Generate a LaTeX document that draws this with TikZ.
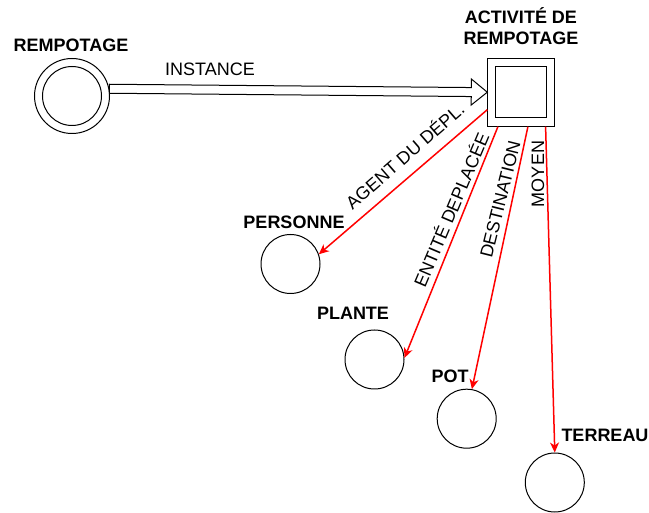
\documentclass[tikz,border=0pt]{standalone}
\usepackage{fontspec}
\setmainfont{Liberation Sans}
\usetikzlibrary{arrows.meta,calc}
\begin{document}
\begin{tikzpicture}[x=1pt,y=-1pt,
  every node/.style={font=\fontsize{18}{21}\selectfont},
  ent/.style={circle,draw,line width=1pt,minimum size=59pt,inner sep=0pt},
  lbl/.style={inner sep=0pt,text height=13pt,text depth=0pt,font=\fontsize{18}{21}\selectfont\bfseries},
  rlbl/.style={inner sep=0pt,text height=13pt,text depth=0pt},
  rel/.style={draw=red,line width=1.5pt,-{Stealth[length=10pt,width=9pt,inset=3pt]}},
  box/.style={draw,line width=1pt,inner sep=0pt,fill=white}
]
\useasboundingbox (0,0) rectangle (649,513);

% entities
\node[ent,minimum size=75pt] (rp) at (72,96) {};
\node[ent] (rpin) at (rp.center) {};
\node[ent] (pers) at (290.5,264) {};
\node[ent] (plante) at (374.5,359.5) {};
\node[ent] (pot) at (466.7,418.7) {};
\node[ent] (ter) at (554.8,482.5) {};

% activity box
\node[box,minimum width=67pt,minimum height=68pt] (act) at (521.3,92.2) {};
\node[box,minimum width=51pt,minimum height=50.6pt] (actin) at (act.center) {};

% titles
\node[lbl] (trp) at (71,45) {REMPOTAGE};
\node[inner sep=0pt,align=center,font=\fontsize{18}{21}\selectfont\bfseries] (tact) at (521,26.5) {ACTIVITÉ DE\\REMPOTAGE};
\node[lbl] (tpers) at (294,221.7) {PERSONNE};
\node[lbl] (tplante) at (353,313.5) {PLANTE};
\node[lbl] (tpot) at (450,376) {POT};
\node[lbl] (tter) at (605,435) {TERREAU};

% hollow instance arrow
\coordinate (ia) at (rp.11.5);
\coordinate (ib) at (act.west);
\coordinate (hb) at ($(ib)!16pt!(ia)$);
\draw[line width=1pt,fill=white,line join=miter]
  ($(ia)!4.5pt!90:(ib)$) -- ($(hb)!4.5pt!-90:(ia)$) -- ($(hb)!13pt!-90:(ia)$)
  -- (ib) -- ($(hb)!13pt!90:(ia)$) -- ($(hb)!4.5pt!90:(ia)$)
  -- ($(ia)!4.5pt!-90:(ib)$) -- cycle;
\node[rlbl] (linst) at (210,69.5) {INSTANCE};

% relations
\draw[rel] ($(act.south west)+(0,-17)$) -- (pers.19);
\draw[rel] ($(act.south west)+(10.6,0)$) -- (plante.3);
\draw[rel] ($(act.south west)+(40.6,0)$) -- (pot.80);
\draw[rel] ($(act.south west)+(58.3,0)$) -- (ter.north);

\node[rlbl,rotate=41] (lagent) at (405,156) {AGENT DU DÉPL.};
\node[rlbl,rotate=67] (lent) at (451.5,210) {ENTITÉ DEPLACÉE};
\node[rlbl,rotate=76] (ldest) at (500,199) {DESTINATION};
\node[rlbl,rotate=90] (lmoy) at (537.5,174) {MOYEN};
\end{tikzpicture}
\end{document}
